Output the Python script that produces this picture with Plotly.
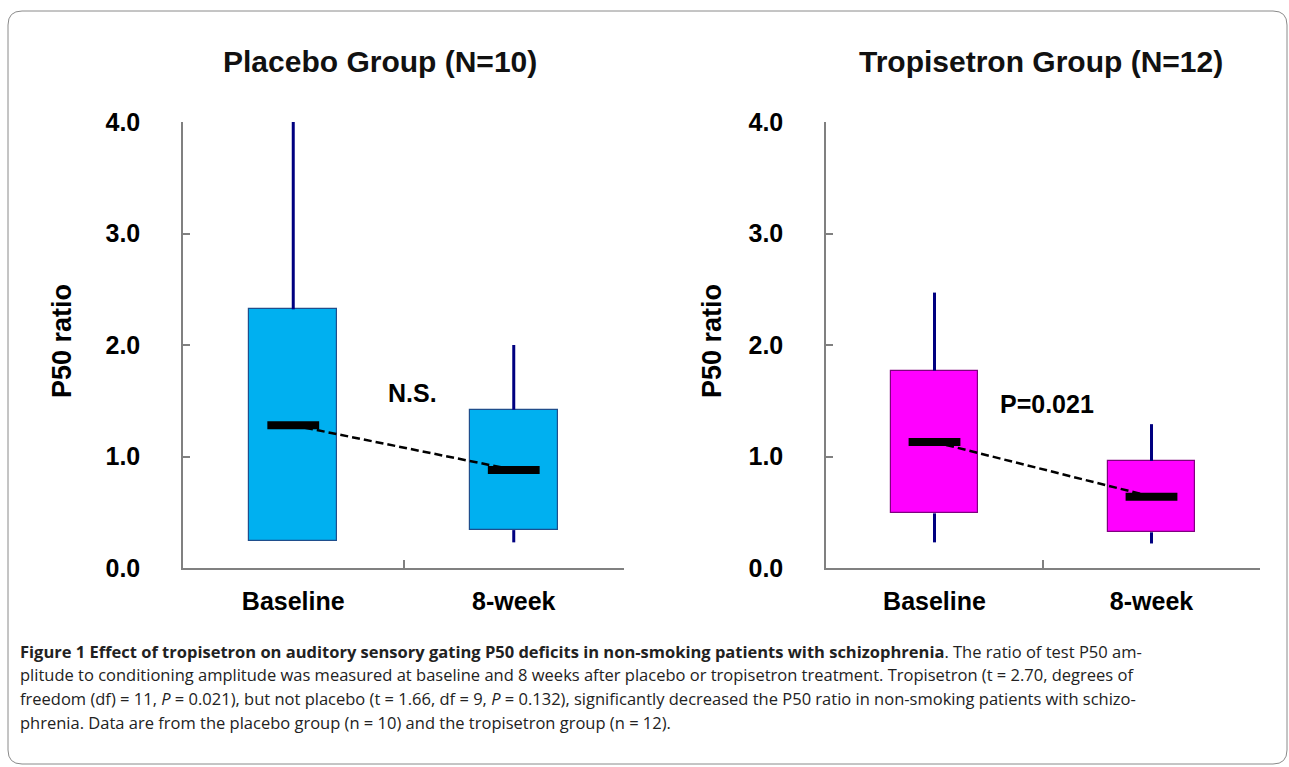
import plotly.graph_objects as go

# ---------------- data ----------------
categories = ["Baseline", "8-week"]

placebo_low = [0.24, 0.23]
placebo_q1 = [0.24, 0.34]
placebo_median = [1.28, 0.88]
placebo_q3 = [2.32, 1.42]
placebo_high = [4.00, 2.00]

tropisetron_low = [0.23, 0.22]
tropisetron_q1 = [0.49, 0.32]
tropisetron_median = [1.13, 0.64]
tropisetron_q3 = [1.77, 0.96]
tropisetron_high = [2.47, 1.29]

y_ticks = [0, 1, 2, 3, 4]
panel_titles = ["Placebo Group (N=10)", "Tropisetron Group (N=12)"]
panel_notes = ["N.S.", "P=0.021"]

caption_lines = [
    "<b>Figure 1 Effect of tropisetron on auditory sensory gating P50 deficits in non-smoking patients with schizophrenia</b>. The ratio of test P50 am-",
    "plitude to conditioning amplitude was measured at baseline and 8 weeks after placebo or tropisetron treatment. Tropisetron (t = 2.70, degrees of",
    "freedom (df) = 11, <i>P</i> = 0.021), but not placebo (t = 1.66, df = 9, <i>P</i> = 0.132), significantly decreased the P50 ratio in non-smoking patients with schizo-",
    "phrenia. Data are from the placebo group (n = 10) and the tropisetron group (n = 12).",
]

# ---------------- layout helpers ----------------
W, H = 1289, 767
def px(x):
    return x / W
def py(y):
    return 1 - y / H

ARIAL = "Liberation Sans, Arial, sans-serif"
fig = go.Figure()

groups = [
    dict(low=placebo_low, q1=placebo_q1, med=placebo_median, q3=placebo_q3, high=placebo_high,
         fill="#00B0F0", edge="#1F4E8C", xa="x", ya="y"),
    dict(low=tropisetron_low, q1=tropisetron_q1, med=tropisetron_median, q3=tropisetron_q3,
         high=tropisetron_high, fill="#FF00FF", edge="#800080", xa="x2", ya="y2"),
]

for g in groups:
    # whiskers (drawn outside the box only)
    wx, wy = [], []
    for c, lo, a, b, hi in zip(categories, g["low"], g["q1"], g["q3"], g["high"]):
        wx += [c, c, None, c, c, None]
        wy += [lo, a, None, b, hi, None]
    fig.add_trace(go.Scatter(x=wx, y=wy, mode="lines", line=dict(color="#000080", width=3),
                             xaxis=g["xa"], yaxis=g["ya"], showlegend=False, hoverinfo="skip"))
    # boxes (q1..q3)
    fig.add_trace(go.Bar(x=categories, base=g["q1"], y=[b - a for a, b in zip(g["q1"], g["q3"])],
                         width=0.4, marker=dict(color=g["fill"], line=dict(color=g["edge"], width=1.2)),
                         xaxis=g["xa"], yaxis=g["ya"], showlegend=False))
    # dashed line between medians
    fig.add_trace(go.Scatter(x=categories, y=g["med"], mode="lines",
                             line=dict(color="black", width=2.5, dash="8px,4px"),
                             xaxis=g["xa"], yaxis=g["ya"], showlegend=False, hoverinfo="skip"))
    # median markers
    fig.add_trace(go.Scatter(x=categories, y=g["med"], mode="markers",
                             marker=dict(symbol="line-ew", size=37, color="black",
                                         line=dict(color="black", width=8)),
                             xaxis=g["xa"], yaxis=g["ya"], showlegend=False))

common_x = dict(type="category", tickson="boundaries", ticks="inside", ticklen=8, tickwidth=1.5,
                tickcolor="#808080", showline=True, linecolor="#808080", linewidth=1.5,
                showgrid=False, zeroline=False, range=[-0.5, 1.5], automargin=False,
                tickfont=dict(family=ARIAL, size=25, color="black", weight="bold"),
                ticklabelstandoff=10, fixedrange=True)
common_y = dict(range=[0, 4], tickvals=y_ticks, tickformat=".1f", ticks="inside", ticklen=7,
                tickwidth=1.5, tickcolor="#808080", showline=True, linecolor="#808080", linewidth=1.5,
                showgrid=False, zeroline=False, automargin=False,
                tickfont=dict(family=ARIAL, size=25, color="black", weight="bold"),
                ticklabelstandoff=36, fixedrange=True)

y_dom = [py(568), py(122)]
fig.update_layout(
    width=W, height=H,
    margin=dict(l=0, r=0, t=0, b=0, pad=0, autoexpand=False),
    paper_bgcolor="white", plot_bgcolor="rgba(0,0,0,0)",
    bargap=0,
    xaxis=dict(domain=[px(183), px(624)], anchor="y", **common_x),
    yaxis=dict(domain=y_dom, anchor="x", **common_y),
    xaxis2=dict(domain=[px(826), px(1260)], anchor="y2", **common_x),
    yaxis2=dict(domain=y_dom, anchor="x2", **common_y),
    showlegend=False,
)

ann = []
# panel titles
for t, xc in zip(panel_titles, [380, 1041]):
    ann.append(dict(text="<b>" + t + "</b>", x=px(xc), y=py(62), xref="paper", yref="paper",
                    showarrow=False, xanchor="center", yanchor="middle",
                    font=dict(family=ARIAL, size=30, color="#111")))
# y axis titles
for xc in [62, 712]:
    ann.append(dict(text="<b>P50 ratio</b>", x=px(xc), y=py(341), xref="paper", yref="paper",
                    showarrow=False, textangle=-90, xanchor="center", yanchor="middle",
                    font=dict(family=ARIAL, size=27, color="black")))
# notes
ann.append(dict(text="<b>" + panel_notes[0] + "</b>", x=0.54, y=1.57, xref="x", yref="y",
                showarrow=False, font=dict(family=ARIAL, size=25, color="black")))
ann.append(dict(text="<b>" + panel_notes[1] + "</b>", x=0.52, y=1.47, xref="x2", yref="y2",
                showarrow=False, font=dict(family=ARIAL, size=25, color="black")))
# caption
for i, line in enumerate(caption_lines):
    ann.append(dict(text=line, x=px(18), y=py(651 + i * 23.7), xref="paper", yref="paper",
                    showarrow=False, xanchor="left", yanchor="middle", align="left",
                    font=dict(family="Open Sans, sans-serif", size=16.5, color="#222")))
fig.update_layout(annotations=ann)

# rounded border
x0, x1, y0, y1, r = 8, 1287, 11, 764, 14
path = (f"M {px(x0)},{py(y1 - r)} L {px(x0)},{py(y0 + r)} Q {px(x0)},{py(y0)} {px(x0 + r)},{py(y0)} "
        f"L {px(x1 - r)},{py(y0)} Q {px(x1)},{py(y0)} {px(x1)},{py(y0 + r)} "
        f"L {px(x1)},{py(y1 - r)} Q {px(x1)},{py(y1)} {px(x1 - r)},{py(y1)} "
        f"L {px(x0 + r)},{py(y1)} Q {px(x0)},{py(y1)} {px(x0)},{py(y1 - r)} Z")
fig.add_shape(type="path", path=path, xref="paper", yref="paper",
              line=dict(color="#8a8a8a", width=1), fillcolor="rgba(0,0,0,0)", layer="below")

fig.write_html("out.html", config={"displayModeBar": False},
               post_script="document.body.style.margin='0';document.body.style.overflow='hidden';")
